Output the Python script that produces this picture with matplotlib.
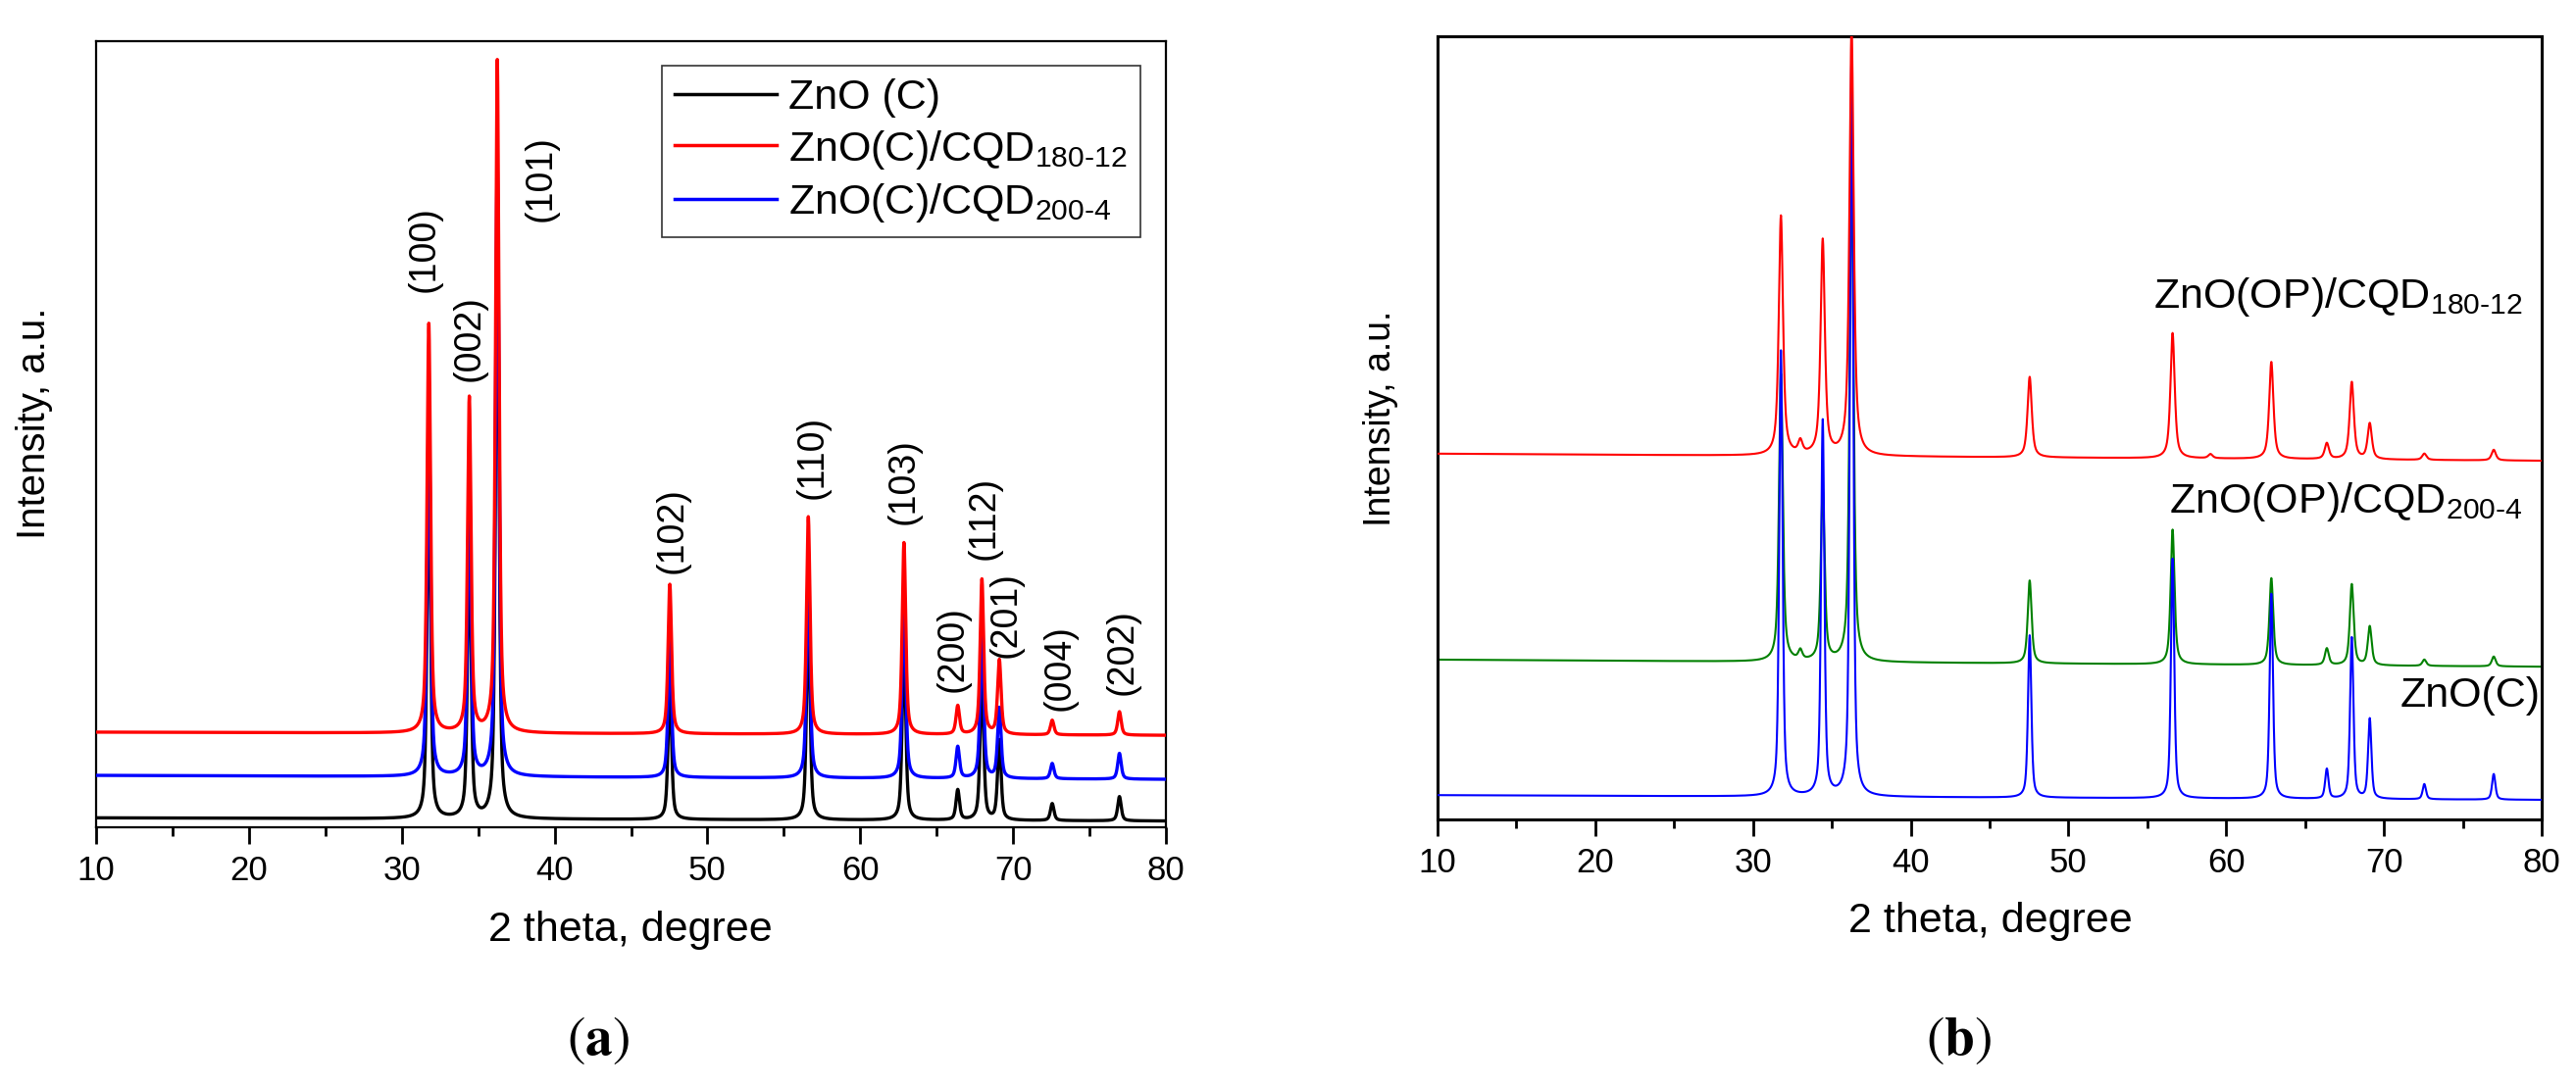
import numpy as np
import matplotlib
matplotlib.use("Agg")
import matplotlib.pyplot as plt
from matplotlib.ticker import MultipleLocator

plt.rcParams['font.family'] = ['Liberation Sans', 'DejaVu Sans']
plt.rcParams['mathtext.fontset'] = 'custom'
plt.rcParams['mathtext.rm'] = 'Liberation Sans'
plt.rcParams['mathtext.it'] = 'Liberation Sans:italic'
plt.rcParams['mathtext.bf'] = 'Liberation Sans:bold'

# ---------------- data ----------------
peak_2theta = [31.77, 34.42, 36.25, 47.54, 56.60, 62.86, 66.38, 67.96, 69.10, 72.56, 76.96]
hkl_labels = ['(100)', '(002)', '(101)', '(102)', '(110)', '(103)', '(200)', '(112)', '(201)', '(004)', '(202)']

# panel (a): peak-top intensities (a.u.) and baseline (start, end)
a_black_tops = [470, 375, 780, 182, 275, 238, 47, 196, 110, 30, 39]
a_red_tops = [640, 545, 975, 309, 395, 362, 154, 315, 212, 136, 147]
a_blue_tops = [532, 432, 845, 237, 331, 294, 102, 252, 151, 81, 94]
a_black_base = [12, 8]
a_red_base = [121, 117]
a_blue_base = [66, 61]
a_names = ['ZnO (C)', r'ZnO(C)/CQD$_{180\text{-}12}$', r'ZnO(C)/CQD$_{200\text{-}4}$']

# label anchor points for hkl annotations (2theta, intensity)
a_label_x = [31.49, 34.45, 39.13, 47.73, 56.90, 62.87, 66.08, 68.13, 69.54, 73.07, 77.17]
a_label_y = [736, 622, 825, 378, 471, 440, 227, 393, 271, 203, 223]

# panel (b)
b_blue_tops = [598, 508, 975, 235, 333, 288, 64, 232, 128, 45, 58]
b_green_tops = [568, 420, 840, 305, 370, 308, 218, 300, 246, 204, 208]
b_red_tops = [770, 738, 1010, 565, 621, 584, 480, 558, 505, 467, 472]
b_blue_base = [31, 25]
b_green_base = [204, 195]
b_red_base = [467, 458]
b_green_extra_pos = [33.0]
b_green_extra_tops = [213]
b_red_extra_pos = [33.0, 59.0]
b_red_extra_tops = [480, 466]
b_names = [r'ZnO(OP)/CQD$_{180\text{-}12}$', r'ZnO(OP)/CQD$_{200\text{-}4}$', 'ZnO(C)']
b_name_x = [78.8, 78.8, 79.9]
b_name_y = [653, 392, 144]

# ---------------- helpers ----------------
x = np.round(np.arange(1000, 8001) * 0.01, 2)


def pv(xx, c, fwhm, eta):
    g = np.exp(-4 * np.log(2) * ((xx - c) / fwhm) ** 2)
    l = 1.0 / (1 + 4 * ((xx - c) / fwhm) ** 2)
    return eta * l + (1 - eta) * g


def pattern(centers, tops, base, fwhm, eta):
    def bl(v):
        return base[0] + (base[1] - base[0]) * (v - 10.0) / 70.0
    y = bl(x)
    for c, t in zip(centers, tops):
        y = y + (t - bl(c)) * pv(x, c, fwhm, eta)
    return y


fig = plt.figure(figsize=(26.27, 11.10), dpi=100)
axA = fig.add_axes([98 / 2627, 1 - 844 / 1110, (1189 - 98) / 2627, (844 - 42) / 1110])
axB = fig.add_axes([1466 / 2627, 1 - 836 / 1110, (2592 - 1466) / 2627, (836 - 37) / 1110])


def style(ax, spw):
    ax.set_xlim(10, 80)
    ax.set_ylim(0, 1000)
    ax.set_yticks([])
    ax.xaxis.set_major_locator(MultipleLocator(10))
    ax.xaxis.set_minor_locator(MultipleLocator(5))
    ax.tick_params(axis='x', which='major', direction='out', length=12, width=2.0,
                   labelsize=25, pad=8, top=False)
    ax.tick_params(axis='x', which='minor', direction='out', length=6.5, width=2.0, top=False)
    for s in ax.spines.values():
        s.set_linewidth(spw)


# ---------------- panel (a) ----------------
lk, = axA.plot(x, pattern(peak_2theta, a_black_tops, a_black_base, 0.27, 0.6),
               color='black', lw=2.4, zorder=2)
lb, = axA.plot(x, pattern(peak_2theta, a_blue_tops, a_blue_base, 0.27, 0.6),
               color='#0000FF', lw=2.4, zorder=3)
lr, = axA.plot(x, pattern(peak_2theta, a_red_tops, a_red_base, 0.27, 0.6),
               color='#FF0000', lw=2.4, zorder=4)
style(axA, 1.6)
for lx, ly, t in zip(a_label_x, a_label_y, hkl_labels):
    axA.text(lx, ly, t, rotation=90, ha='center', va='center', fontsize=27)
leg = axA.legend([lk, lr, lb], a_names, loc='upper right', bbox_to_anchor=(0.976, 0.969),
                 borderaxespad=0, fontsize=31, handlelength=2.4, handletextpad=0.3,
                 borderpad=0.3, labelspacing=0.25, fancybox=False, framealpha=1,
                 edgecolor='#333333')
leg.get_frame().set_linewidth(1.2)
for h in leg.get_lines():
    h.set_linewidth(2.5)
axA.set_xlabel('2 theta, degree', fontsize=31)
axA.xaxis.set_label_coords(0.499, -0.131)
axA.xaxis.label.set_va('center')
axA.set_ylabel('Intensity, a.u.', fontsize=29)
axA.yaxis.set_label_coords(-0.0577, 0.514)
axA.yaxis.label.set_va('center')

# ---------------- panel (b) ----------------
axB.plot(x, pattern(peak_2theta + b_green_extra_pos, b_green_tops + b_green_extra_tops,
                    b_green_base, 0.29, 0.65), color='#008000', lw=1.5, zorder=2)
axB.plot(x, pattern(peak_2theta, b_blue_tops, b_blue_base, 0.25, 0.55),
         color='#0000FF', lw=1.5, zorder=3)
axB.plot(x, pattern(peak_2theta + b_red_extra_pos, b_red_tops + b_red_extra_tops,
                    b_red_base, 0.32, 0.7), color='#FF0000', lw=1.5, zorder=4)
style(axB, 2.2)
for nx, ny, t in zip(b_name_x, b_name_y, b_names):
    axB.text(nx, ny, t, ha='right', va='baseline', fontsize=31)
axB.set_xlabel('2 theta, degree', fontsize=31)
axB.xaxis.set_label_coords(0.501, -0.130)
axB.xaxis.label.set_va('center')
axB.set_ylabel('Intensity, a.u.', fontsize=27)
axB.yaxis.set_label_coords(-0.0515, 0.512)
axB.yaxis.label.set_va('center')

fig.text(610 / 2627, 1 - 1062 / 1110, r'$(\mathbf{a})$', math_fontfamily='stix',
         ha='center', va='center', fontsize=40)
fig.text(1998 / 2627, 1 - 1062 / 1110, r'$(\mathbf{b})$', math_fontfamily='stix',
         ha='center', va='center', fontsize=40)

fig.savefig('out.png', dpi=100)
